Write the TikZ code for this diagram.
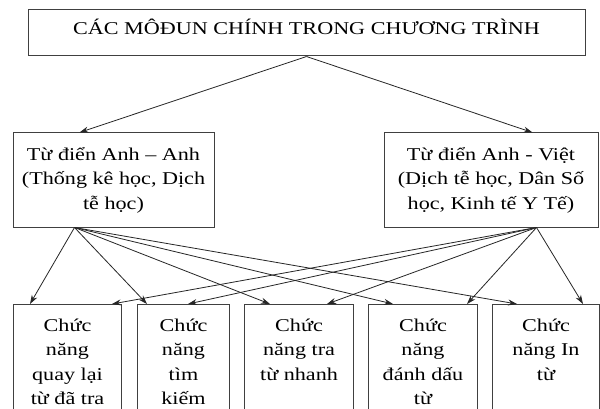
\documentclass[tikz,border=0pt]{standalone}
\usepackage{fontspec}
\setmainfont{Liberation Serif}[FakeStretch=1.23]
\usetikzlibrary{arrows.meta,calc}
\begin{document}
\begin{tikzpicture}[x=1pt,y=-1pt,
  box/.style={draw=black!75, line width=1pt, rectangle, inner sep=0pt},
  txt/.style={font=\fontsize{18}{24.5}\selectfont},
  lbl/.style={inner sep=0pt, txt},
  arr/.style={draw=black!85, line width=0.8pt, -{Stealth[length=9pt,width=6pt]}}]
\useasboundingbox (0,0) rectangle (600,409);
\clip (0,0) rectangle (600,409);
\fill[white] (0,0) rectangle (600,409);
% top
\node[box, txt, minimum width=557pt, minimum height=46pt, text height=10pt, text depth=6pt] (top) at (306.5,33) {CÁC MÔĐUN CHÍNH TRONG CHƯƠNG TRÌNH};
% middle
\node[box, txt, minimum width=201pt, minimum height=94pt, align=center] (L) at (113.5,180) {Từ điển Anh – Anh\\(Thống kê học, Dịch\\tễ học)};
\node[box, txt, minimum width=214pt, minimum height=94pt, align=center] (R) at (491,180) {Từ điển Anh - Việt\\(Dịch tễ học, Dân Số\\học, Kinh tế Y Tế)};
% bottom boxes
\node[box, minimum width=108pt, minimum height=140pt, anchor=north west] (b1) at (13,304) {};
\node[box, minimum width=92pt, minimum height=140pt, anchor=north west] (b2) at (137,304) {};
\node[box, minimum width=109pt, minimum height=140pt, anchor=north west] (b3) at (244,304) {};
\node[box, minimum width=109pt, minimum height=140pt, anchor=north west] (b4) at (368,304) {};
\node[box, minimum width=107pt, minimum height=140pt, anchor=north west] (b5) at (492,304) {};
% bottom texts
\node[lbl, anchor=base] (t1) at (b1.north |- 0,331) {\parbox[t]{104pt}{\centering Chức\\năng\\quay lại\\từ đã tra}};
\node[lbl, anchor=base] (t2) at (b2.north |- 0,331) {\parbox[t]{88pt}{\centering Chức\\năng\\tìm\\kiếm}};
\node[lbl, anchor=base] (t3) at (b3.north |- 0,331) {\parbox[t]{104pt}{\centering Chức\\năng tra\\từ nhanh}};
\node[lbl, anchor=base] (t4) at (b4.north |- 0,331) {\parbox[t]{104pt}{\centering Chức\\năng\\đánh dấu\\từ}};
\node[lbl, anchor=base] (t5) at (b5.north |- 0,331) {\parbox[t]{104pt}{\centering Chức\\năng In\\từ}};
% connectors
\draw[arr] (top.south) -- ([xshift=67pt]L.north west);
\draw[arr] (top.south) -- ([xshift=149pt]R.north west);
\coordinate (Ls) at ([xshift=62pt]L.south west);
\coordinate (Rs) at ([xshift=153pt]R.south west);
\draw[arr] (Ls) -- ([xshift=17pt]b1.north west);
\draw[arr] (Ls) -- ([xshift=10pt]b2.north west);
\draw[arr] (Ls) -- ([xshift=26pt]b3.north west);
\draw[arr] (Ls) -- ([xshift=25pt]b4.north west);
\draw[arr] (Ls) -- ([xshift=25pt]b5.north west);
\draw[arr] (Rs) -- ([xshift=99pt]b1.north west);
\draw[arr] (Rs) -- ([xshift=51pt]b2.north west);
\draw[arr] (Rs) -- ([xshift=83pt]b3.north west);
\draw[arr] (Rs) -- ([xshift=99pt]b4.north west);
\draw[arr] (Rs) -- ([xshift=91pt]b5.north west);
\end{tikzpicture}
\end{document}
